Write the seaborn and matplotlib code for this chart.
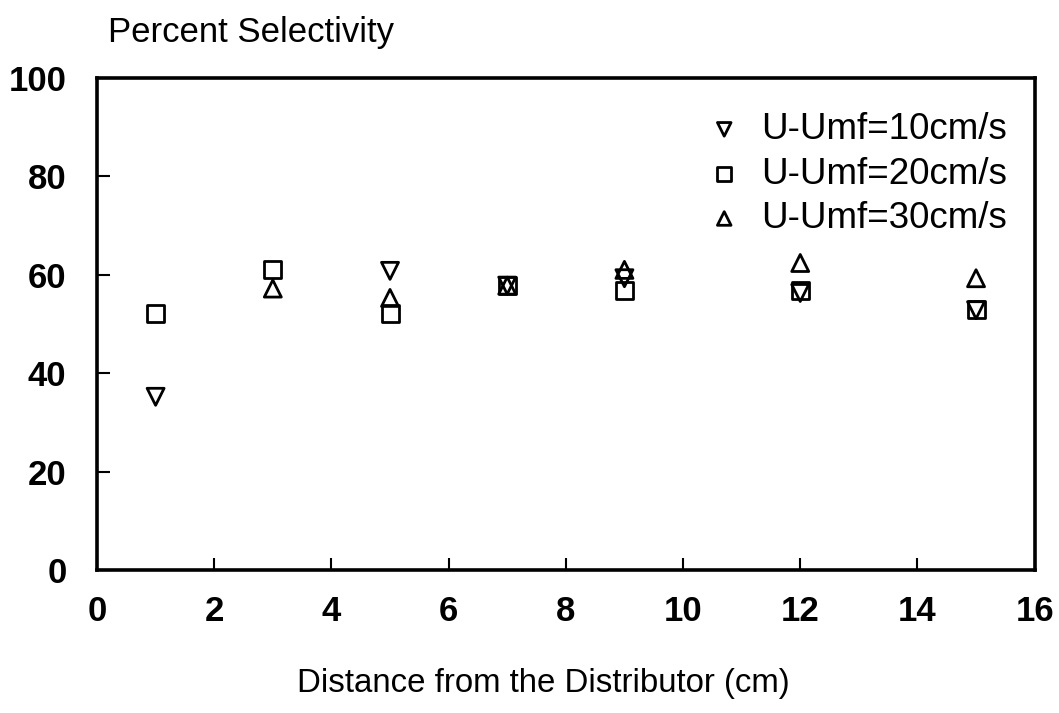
import numpy as np
import matplotlib
matplotlib.use('Agg')
import matplotlib.pyplot as plt
import seaborn as sns

sns.set_style('white')
plt.rcParams['font.family'] = ['Liberation Sans', 'DejaVu Sans']
plt.rcParams['text.color'] = 'black'
plt.rcParams['xtick.color'] = 'black'
plt.rcParams['ytick.color'] = 'black'

distance = [1, 3, 5, 7, 9, 12, 15]
sel_10 = [35.2, np.nan, 60.8, 57.8, 59.3, 56.3, 52.8]
sel_20 = [52.2, 61.0, 52.2, 57.8, 56.8, 56.8, 53.0]
sel_30 = [np.nan, 57.2, 55.3, 57.8, 61.0, 62.4, 59.3]
series_labels = ['U-Umf=10cm/s', 'U-Umf=20cm/s', 'U-Umf=30cm/s']
series_markers = ['v', 's', '^']

fig = plt.figure(figsize=(10.59, 7.13), dpi=100)
ax = fig.add_axes([0.0916, 0.2006, 0.8854, 0.69])

for vals, lab, mk in zip([sel_10, sel_20, sel_30], series_labels, series_markers):
    sns.scatterplot(x=distance, y=vals, marker=mk, s=150, facecolor='none',
                    edgecolor='black', linewidth=2, label=lab, ax=ax)

ax.set_xlim(0, 16)
ax.set_ylim(0, 100)
ax.set_xticks(range(0, 17, 2))
ax.set_yticks(range(0, 101, 20))
ax.tick_params(bottom=True, left=True, direction='in', length=9, width=1.5,
               color='black', labelsize=25, pad=22, labelcolor='black')
for t in ax.get_xticklabels() + ax.get_yticklabels():
    t.set_fontweight('bold')
ax.tick_params(axis='x', pad=18)
for sp in ax.spines.values():
    sp.set_visible(True)
    sp.set_color('black')
    sp.set_linewidth(2.6)

ax.set_xlabel('')
ax.set_ylabel('')
fig.text(0.102, 0.955, 'Percent Selectivity', fontsize=25, va='center', ha='left')
fig.text(0.513, 0.042, 'Distance from the Distributor (cm)', fontsize=23.8,
         va='center', ha='center')

leg = ax.legend(loc='upper right', bbox_to_anchor=(1.0, 0.987), frameon=False,
                fontsize=26.5, markerscale=0.8, handletextpad=0.4,
                labelspacing=0.26, borderaxespad=0.45, handlelength=1.2,
                borderpad=0.3)
for txt in leg.get_texts():
    txt.set_color('black')

fig.savefig('out.png', dpi=100)
